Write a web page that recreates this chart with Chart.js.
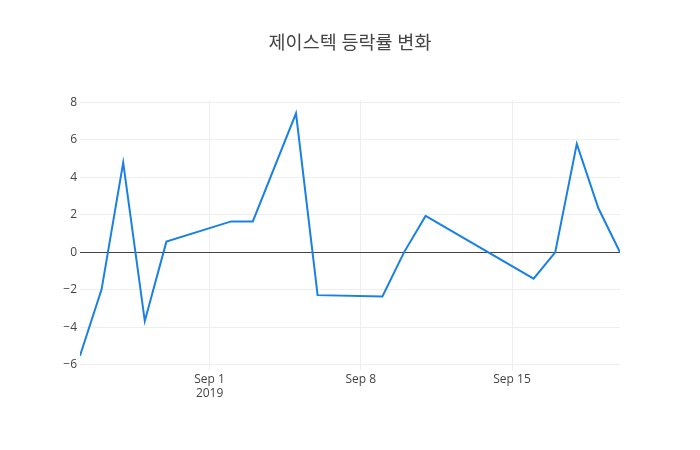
<!DOCTYPE html>
<html>
<head>
<meta charset="utf-8">
<script src="https://cdn.jsdelivr.net/npm/chart.js@4/dist/chart.umd.min.js"></script>
<style>
html,body{margin:0;padding:0;background:#fff;}
#wrap{width:700px;height:450px;position:relative;}
</style>
</head>
<body>
<div id="wrap"><canvas id="c" width="700" height="450"></canvas></div>
<script>
const titleText = '제이스텍 등락률 변화';
const dates = ['2019-08-26','2019-08-27','2019-08-28','2019-08-29','2019-08-30','2019-09-02','2019-09-03','2019-09-05','2019-09-06','2019-09-09','2019-09-10','2019-09-11','2019-09-16','2019-09-17','2019-09-18','2019-09-19','2019-09-20'];
const changes = [-5.51,-1.97,4.78,-3.66,0.57,1.65,1.65,7.41,-2.28,-2.35,0.0,1.94,-1.40,0.0,5.78,2.35,0.0];
const xTickDates = ['2019-09-01','2019-09-08','2019-09-15'];
const xTickLabels = [['Sep 1','2019'],['Sep 8'],['Sep 15']];
const yTicks = [-6,-4,-2,0,2,4,6,8];

const base = Date.parse(dates[0]);
const dayOf = d => (Date.parse(d) - base) / 86400000;
const points = dates.map((d,i)=>({x:dayOf(d), y:changes[i]}));
const xTickVals = xTickDates.map(dayOf);

const font = "'Open Sans', 'Noto Sans CJK KR', sans-serif";

const titlePlugin = {
  id:'ptitle',
  afterDraw(chart){
    const ctx = chart.ctx;
    ctx.save();
    ctx.font = "18.5px " + font;
    ctx.fillStyle = '#444';
    ctx.textAlign = 'center';
    ctx.textBaseline = 'middle';
    ctx.fillText(titleText, 350, 44);
    ctx.restore();
  }
};
const zeroLine = {
  id:'zeroLine',
  beforeDatasetsDraw(chart){
    const y = chart.scales.y.getPixelForValue(0);
    const a = chart.chartArea;
    const ctx = chart.ctx;
    ctx.save();
    ctx.strokeStyle = '#444';
    ctx.lineWidth = 1;
    ctx.beginPath();
    ctx.moveTo(a.left, Math.round(y)+0.5);
    ctx.lineTo(a.right, Math.round(y)+0.5);
    ctx.stroke();
    ctx.restore();
  }
};

new Chart(document.getElementById('c'), {
  type:'line',
  data:{datasets:[{
    data: points,
    borderColor:'#1a80e6',
    borderWidth:2,
    pointRadius:0,
    tension:0,
    fill:false
  }]},
  options:{
    responsive:false,
    animation:false,
    layout:{padding:{left:0,right:80,top:100,bottom:0}},
    plugins:{legend:{display:false},title:{display:false},tooltip:{enabled:false}},
    scales:{
      x:{
        type:'linear',
        min: dayOf(dates[0]),
        max: dayOf(dates[dates.length-1]),
        afterFit(s){ s.height = 80; },
        afterBuildTicks(s){ s.ticks = xTickVals.map(v=>({value:v})); },
        border:{display:false},
        grid:{color:'#eeeeee', lineWidth:1, drawTicks:false},
        ticks:{
          padding:2,
          maxRotation:0,
          autoSkip:false,
          color:'#444',
          font:{family:font, size:12, lineHeight:1.2},
          callback(v){ const i = xTickVals.indexOf(v); return i>=0 ? xTickLabels[i] : ''; }
        }
      },
      y:{
        min:-6.27,
        max:8.12,
        afterFit(s){ s.width = 80; },
        afterBuildTicks(s){ s.ticks = yTicks.map(v=>({value:v})); },
        border:{display:false},
        grid:{color:'#eeeeee', lineWidth:1, drawTicks:false},
        ticks:{
          padding:3,
          color:'#444',
          font:{family:font, size:12},
          callback(v){ return v < 0 ? '\u2212' + Math.abs(v) : String(v); }
        }
      }
    }
  },
  plugins:[titlePlugin, zeroLine]
});
</script>
</body>
</html>
